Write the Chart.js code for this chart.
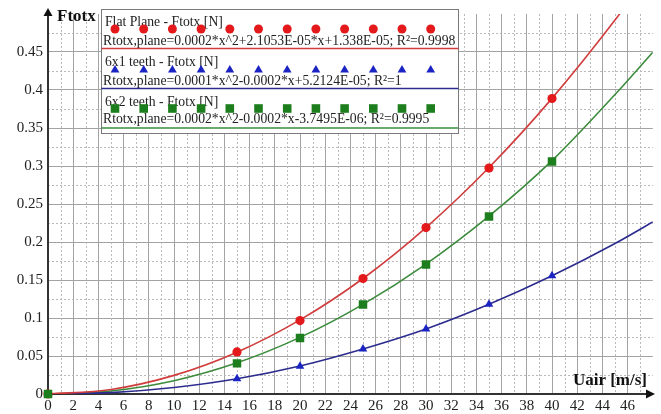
<!DOCTYPE html>
<html>
<head>
<meta charset="utf-8">
<script src="https://cdn.jsdelivr.net/npm/chart.js@4.4.0/dist/chart.umd.min.js"></script>
<style>
    html, body { margin: 0; padding: 0; background: #fff; }
    #wrap { width: 661px; height: 414px; }
</style>
</head>
<body>
<div id="wrap"><canvas id="forceChart" width="661" height="414"></canvas></div>
<script>
// Measured points (air speed in m/s, force in N)
const speeds = [0, 15, 20, 25, 30, 35, 40];
const flatPlane = [0, 0.0554, 0.0966, 0.152, 0.219, 0.2973, 0.3888];
const teeth6x1 = [0, 0.0202, 0.0365, 0.0593, 0.0854, 0.1182, 0.1555];
const teeth6x2 = [0, 0.0403, 0.0738, 0.1177, 0.1705, 0.2336, 0.3058];

// Trend curves
const trendSpeeds = [0, 5, 10, 15, 20, 25, 30, 35, 40, 45, 48];
const flatPlaneFit = [0, 0.006, 0.0245, 0.055, 0.0975, 0.152, 0.219, 0.298, 0.389, 0.492, 0.56];
const teeth6x1Fit = [0, 0.0018, 0.0085, 0.02, 0.0368, 0.0592, 0.0855, 0.118, 0.1555, 0.198, 0.2264];
const teeth6x2Fit = [0, 0.004, 0.0175, 0.041, 0.0745, 0.118, 0.171, 0.234, 0.307, 0.394, 0.4497];

// Legend texts
const seriesNames = ["Flat Plane - Ftotx [N]", "6x1 teeth - Ftotx [N]", "6x2 teeth - Ftotx [N]"];
const fitLabels = [
    "Rtotx,plane=0.0002*x^2+2.1053E-05*x+1.338E-05; R\u00b2=0.9998",
    "Rtotx,plane=0.0001*x^2-0.0002*x+5.2124E-05; R\u00b2=1",
    "Rtotx,plane=0.0002*x^2-0.0002*x-3.7495E-06; R\u00b2=0.9995"
];

const SERIF = "'Liberation Serif', 'Times New Roman', serif";
const colors = {
    flat: { point: "#e3191c", line: "#d13d3d" },
    t1: { point: "#1b24c2", line: "#2c2c8e" },
    t2: { point: "#1d7e1d", line: "#3d8c3d" }
};

function pts(xs, ys) {
    return xs.map((x, i) => ({ x: x, y: ys[i] }));
}

function drawMarker(ctx, style, x, y, color) {
    ctx.save();
    ctx.fillStyle = color;
    ctx.beginPath();
    if (style === "circle") {
        ctx.arc(x, y, 4.5, 0, Math.PI * 2);
    } else if (style === "triangle") {
        ctx.moveTo(x, y - 5);
        ctx.lineTo(x + 4.4, y + 2.6);
        ctx.lineTo(x - 4.4, y + 2.6);
        ctx.closePath();
    } else {
        ctx.rect(x - 4.3, y - 4.3, 8.6, 8.6);
    }
    ctx.fill();
    ctx.restore();
}

// Extra drawing: minor grid, axes with arrows, titles, legend box
const decorPlugin = {
    id: "decor",
    beforeDatasetsDraw(chart) {
        const ctx = chart.ctx;
        const xs = chart.scales.x, ys = chart.scales.y;
        const a = chart.chartArea;
        ctx.save();
        ctx.strokeStyle = "#b9b9b9";
        ctx.lineWidth = 1;
        ctx.setLineDash([2, 2]);
        for (let v = 1; v < 48; v += 2) {
            const px = Math.round(xs.getPixelForValue(v)) + 0.5;
            ctx.beginPath();
            ctx.moveTo(px, a.top);
            ctx.lineTo(px, a.bottom);
            ctx.stroke();
        }
        for (let k = 0; k < 10; k++) {
            const py = Math.round(ys.getPixelForValue(0.025 + k * 0.05)) + 0.5;
            ctx.beginPath();
            ctx.moveTo(a.left, py);
            ctx.lineTo(a.right, py);
            ctx.stroke();
        }
        ctx.setLineDash([]);

        // axes
        const x0 = xs.getPixelForValue(0);
        const y0 = ys.getPixelForValue(0);
        ctx.strokeStyle = "#333";
        ctx.fillStyle = "#111";
        ctx.lineWidth = 2;
        ctx.beginPath();
        ctx.moveTo(x0, y0);
        ctx.lineTo(x0, 14);
        ctx.moveTo(x0, y0);
        ctx.lineTo(648, y0);
        ctx.stroke();
        ctx.beginPath();
        ctx.moveTo(x0, 8);
        ctx.lineTo(x0 + 4.5, 16);
        ctx.lineTo(x0 - 4.5, 16);
        ctx.closePath();
        ctx.fill();
        ctx.beginPath();
        ctx.moveTo(655, y0);
        ctx.lineTo(646, y0 - 4.5);
        ctx.lineTo(646, y0 + 4.5);
        ctx.closePath();
        ctx.fill();

        ctx.fillStyle = "#111";
        ctx.font = "bold 17px " + SERIF;
        ctx.textBaseline = "alphabetic";
        ctx.textAlign = "left";
        ctx.fillText("Ftotx", 57, 21);
        ctx.textAlign = "right";
        ctx.fillText("Uair [m/s]", 647, 385);
        ctx.restore();
    },
    afterDraw(chart) {
        const ctx = chart.ctx;
        ctx.save();
        ctx.fillStyle = "#fff";
        ctx.fillRect(101.5, 9.5, 357, 124);
        ctx.strokeStyle = "#7a7a7a";
        ctx.lineWidth = 1;
        ctx.strokeRect(101.5, 9.5, 357, 124);

        const styles = ["circle", "triangle", "rect"];
        const pointColors = [colors.flat.point, colors.t1.point, colors.t2.point];
        const lineColors = [colors.flat.line, colors.t1.line, colors.t2.line];
        const titleY = [26, 65.5, 105.5];
        const markerY = [29, 70, 108.5];
        const eqY = [45, 84.5, 123];
        const lineY = [48.5, 88.5, 128];

        ctx.font = "13.7px " + SERIF;
        ctx.textBaseline = "alphabetic";
        ctx.textAlign = "left";
        for (let i = 0; i < 3; i++) {
            ctx.fillStyle = "#222";
            ctx.fillText(seriesNames[i], 105, titleY[i]);
            for (let m = 0; m < 12; m++) {
                drawMarker(ctx, styles[i], 115 + m * 28.7, markerY[i], pointColors[i]);
            }
            ctx.fillStyle = "#222";
            ctx.fillText(fitLabels[i], 103, eqY[i]);
            ctx.strokeStyle = lineColors[i];
            ctx.lineWidth = 1.6;
            ctx.beginPath();
            ctx.moveTo(101.5, lineY[i]);
            ctx.lineTo(458.5, lineY[i]);
            ctx.stroke();
        }
        ctx.restore();
    }
};

const ctx = document.getElementById("forceChart").getContext("2d");
const chart = new Chart(ctx, {
    type: "scatter",
    data: {
        datasets: [
            {
                label: "6x2 teeth - Ftotx [N]",
                data: pts(speeds, teeth6x2),
                pointStyle: "rect",
                pointRadius: 6,
                backgroundColor: colors.t2.point,
                borderColor: colors.t2.point,
                borderWidth: 0,
                clip: 8,
                order: 0
            },
            {
                label: "Flat Plane - Ftotx [N]",
                data: pts(speeds, flatPlane),
                pointStyle: "circle",
                pointRadius: 4.6,
                backgroundColor: colors.flat.point,
                borderColor: colors.flat.point,
                borderWidth: 0,
                clip: 8,
                order: 1
            },
            {
                label: "6x1 teeth - Ftotx [N]",
                data: pts(speeds, teeth6x1),
                pointStyle: "triangle",
                pointRadius: 5,
                backgroundColor: colors.t1.point,
                borderColor: colors.t1.point,
                borderWidth: 0,
                clip: 8,
                order: 2
            },
            {
                label: "Flat Plane fit",
                data: pts(trendSpeeds, flatPlaneFit),
                showLine: true,
                borderColor: colors.flat.line,
                borderWidth: 1.6,
                pointRadius: 0,
                cubicInterpolationMode: "monotone",
                order: 5
            },
            {
                label: "6x1 teeth fit",
                data: pts(trendSpeeds, teeth6x1Fit),
                showLine: true,
                borderColor: colors.t1.line,
                borderWidth: 1.6,
                pointRadius: 0,
                cubicInterpolationMode: "monotone",
                order: 5
            },
            {
                label: "6x2 teeth fit",
                data: pts(trendSpeeds, teeth6x2Fit),
                showLine: true,
                borderColor: colors.t2.line,
                borderWidth: 1.6,
                pointRadius: 0,
                cubicInterpolationMode: "monotone",
                order: 5
            }
        ]
    },
    options: {
        responsive: false,
        animation: false,
        layout: { padding: { top: 6, right: 8.2, left: 0, bottom: 0 } },
        plugins: {
            legend: { display: false },
            tooltip: { enabled: false }
        },
        scales: {
            x: {
                type: "linear",
                min: 0,
                max: 48,
                afterFit: s => { s.height = 20; },
                ticks: {
                    stepSize: 2,
                    autoSkip: false,
                    maxRotation: 0,
                    padding: 3,
                    color: "#222",
                    font: { family: SERIF, size: 15 },
                    callback: v => (v >= 48 ? "" : String(v))
                },
                grid: {
                    drawTicks: false,
                    color: c => (c.tick && c.tick.value >= 48 ? "rgba(0,0,0,0)" : "#a3a3a3")
                },
                border: { display: false }
            },
            y: {
                min: 0,
                max: 0.5,
                afterFit: s => { s.width = 48; },
                ticks: {
                    stepSize: 0.05,
                    padding: 5,
                    color: "#222",
                    font: { family: SERIF, size: 15 },
                    callback: v => (v > 0.48 ? "" : String(parseFloat(v.toFixed(3))))
                },
                grid: {
                    drawTicks: false,
                    color: c => (c.tick && c.tick.value > 0.48 ? "rgba(0,0,0,0)" : "#a3a3a3")
                },
                border: { display: false }
            }
        }
    },
    plugins: [decorPlugin]
});
</script>
</body>
</html>
